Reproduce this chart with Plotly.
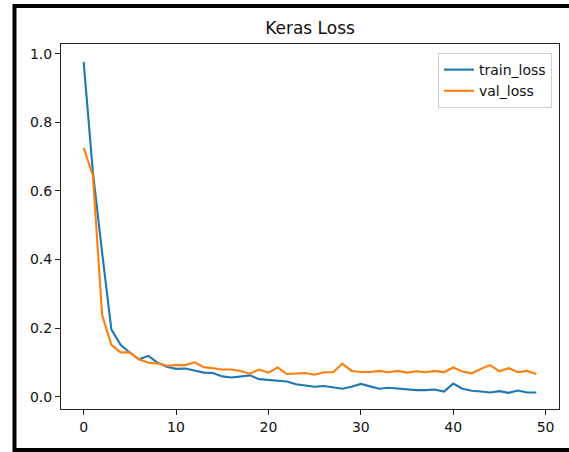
import plotly.graph_objects as go

epochs = list(range(50))
train_loss = [0.976, 0.655, 0.42, 0.196, 0.151, 0.128, 0.109, 0.119, 0.099, 0.087,
              0.081, 0.082, 0.076, 0.070, 0.069, 0.059, 0.056, 0.060, 0.062, 0.051,
              0.048, 0.047, 0.044, 0.036, 0.032, 0.029, 0.031, 0.028, 0.023, 0.029,
              0.037, 0.030, 0.023, 0.026, 0.023, 0.021, 0.019, 0.019, 0.021, 0.015,
              0.038, 0.023, 0.017, 0.015, 0.012, 0.016, 0.011, 0.018, 0.012, 0.012]
val_loss = [0.725, 0.645, 0.238, 0.151, 0.129, 0.129, 0.109, 0.099, 0.097, 0.090,
            0.092, 0.092, 0.100, 0.086, 0.083, 0.079, 0.079, 0.075, 0.067, 0.079,
            0.070, 0.085, 0.066, 0.067, 0.069, 0.064, 0.071, 0.071, 0.096, 0.075,
            0.072, 0.072, 0.075, 0.071, 0.075, 0.070, 0.074, 0.071, 0.075, 0.071,
            0.085, 0.073, 0.068, 0.081, 0.092, 0.074, 0.083, 0.071, 0.075, 0.066]
x_ticks = [0, 10, 20, 30, 40, 50]
y_ticks = [0.0, 0.2, 0.4, 0.6, 0.8, 1.0]

W, H = 569, 452
L, R, T, B = 61, 559, 44, 409

fig = go.Figure()
fig.add_trace(go.Scatter(x=epochs, y=train_loss, mode="lines", name="train_loss",
                         line=dict(color="#1f77b4", width=2.1)))
fig.add_trace(go.Scatter(x=epochs, y=val_loss, mode="lines", name="val_loss",
                         line=dict(color="#ff7f0e", width=2.1)))

def px_x(p):
    return (p - L) / (R - L)

def px_y(p):
    return (B - p) / (B - T)

axis_common = dict(showgrid=False, zeroline=False, showline=True, mirror=True,
                   linecolor="#222", linewidth=1.1, ticks="outside", ticklen=5,
                   tickwidth=1.1, tickcolor="#222",
                   tickfont=dict(family="DejaVu Sans", size=14, color="#111"))

fig.update_layout(
    width=W, height=H,
    margin=dict(l=L, r=W - R, t=T, b=H - B, pad=0),
    paper_bgcolor="white", plot_bgcolor="white",
    title=dict(text="Keras Loss", xref="container", x=310 / W, xanchor="center",
               yref="container", y=1 - 28 / H, yanchor="middle",
               font=dict(family="DejaVu Sans", size=17, color="#111")),
    xaxis=dict(range=[-2.45, 51.45], tickvals=x_ticks, **axis_common),
    yaxis=dict(range=[-0.036, 1.028], tickvals=y_ticks, tickformat=".1f", **axis_common),
    legend=dict(x=px_x(552), xanchor="right", y=px_y(53), yanchor="top",
                bgcolor="white", bordercolor="#d0d0d0", borderwidth=1,
                font=dict(family="DejaVu Sans", size=14, color="#111"),
                itemwidth=30),
    showlegend=True,
    shapes=[dict(type="rect", xref="paper", yref="paper",
                 x0=px_x(14.5), x1=px_x(580), y0=px_y(450), y1=px_y(6),
                 line=dict(color="black", width=4), fillcolor="rgba(0,0,0,0)",
                 layer="above")],
)

fig.write_html("out.html", config={"displayModeBar": False},
               post_script="document.body.style.margin='0';document.body.style.overflow='hidden';")
